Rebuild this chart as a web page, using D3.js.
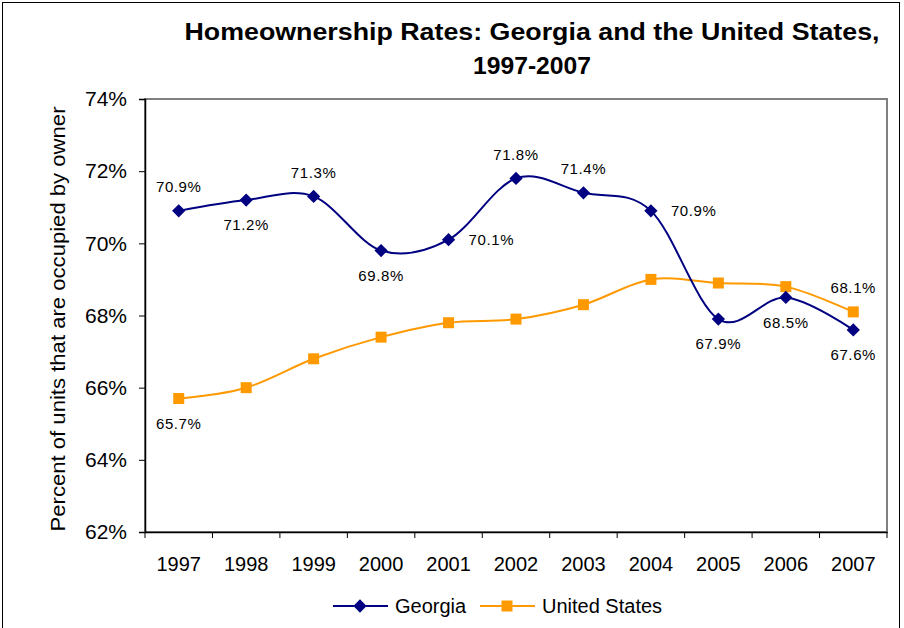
<!DOCTYPE html>
<html><head><meta charset="utf-8">
<script src="https://cdn.jsdelivr.net/npm/d3@7"></script>
<style>body{margin:0;background:#fff}svg{display:block;font-family:Arial,"Liberation Sans",sans-serif}</style>
</head><body>
<svg id="c" width="904" height="628"></svg>
<script>
const years = ["1997","1998","1999","2000","2001","2002","2003","2004","2005","2006","2007"];
const georgia = [70.9,71.2,71.3,69.8,70.1,71.8,71.4,70.9,67.9,68.5,67.6];
const unitedStates = [65.7,66.0,66.8,67.4,67.8,67.9,68.3,69.0,68.9,68.8,68.1];
const yTicks = [62,64,66,68,70,72,74];
// label placement: a=above, b=below, r=right
const georgiaLabelPos = ["a","b","a","b","r","a","a","r","b","b","b"];
const usLabelPos = ["b",null,null,null,null,null,null,null,null,null,"a"];

const svg = d3.select("#c");
const m={l:145,r:887,t:99,b:532};
svg.append("rect").attr("x",2.5).attr("y",2.5).attr("width",897).attr("height",640)
  .attr("fill","#fff").attr("stroke","#000").attr("stroke-width",1);

const x = d3.scaleBand().domain(years).range([m.l,m.r]);
const y = d3.scaleLinear().domain([62,74]).range([m.b,m.t]);

svg.append("rect").attr("x",m.l).attr("y",m.t).attr("width",m.r-m.l).attr("height",m.b-m.t)
  .attr("fill","none").attr("stroke","#808080").attr("stroke-width",2);

const ya = svg.append("g").attr("transform",`translate(${m.l},0)`)
  .call(d3.axisLeft(y).tickValues(yTicks).tickFormat(d=>d+"%").tickSize(6).tickPadding(12));
ya.select(".domain").attr("stroke","#000").attr("stroke-width",1.5);
ya.selectAll(".tick line").attr("stroke","#000");
ya.selectAll("text").attr("font-size",21).attr("fill","#000").attr("font-family","Arial, Liberation Sans, sans-serif");

const xa = svg.append("g").attr("transform",`translate(0,${m.b})`)
  .call(d3.axisBottom(x).tickSize(0).tickPadding(25));
xa.select(".domain").attr("stroke","#000").attr("stroke-width",1.5);
xa.selectAll("text").attr("font-size",20).attr("fill","#000").attr("font-family","Arial, Liberation Sans, sans-serif");
const bounds = years.map(d=>x(d)).concat([m.r]);
xa.selectAll("line.bt").data(bounds).enter().append("line").attr("class","bt")
  .attr("x1",d=>d).attr("x2",d=>d).attr("y1",0).attr("y2",6).attr("stroke","#000");

svg.append("text").attr("x",532).attr("y",40).attr("text-anchor","middle")
  .attr("font-size",23).attr("font-weight","bold")
  .attr("textLength",695).attr("lengthAdjust","spacingAndGlyphs")
  .text("Homeownership Rates: Georgia and the United States,");
svg.append("text").attr("x",532).attr("y",74).attr("text-anchor","middle")
  .attr("font-size",23).attr("font-weight","bold")
  .attr("textLength",118).attr("lengthAdjust","spacingAndGlyphs")
  .text("1997-2007");

svg.append("text").attr("transform","translate(65,319) rotate(-90)").attr("text-anchor","middle")
  .attr("font-size",21).attr("textLength",425).attr("lengthAdjust","spacingAndGlyphs")
  .text("Percent of units that are occupied by owner");

const cx = d=>x(d)+x.bandwidth()/2;
const line = d3.line().x((d,i)=>cx(years[i])).y(d=>y(d)).curve(d3.curveCatmullRom.alpha(0));

const navy="#000080", orange="#FF9900";
svg.append("path").attr("d",line(unitedStates)).attr("fill","none").attr("stroke",orange).attr("stroke-width",2);
svg.append("path").attr("d",line(georgia)).attr("fill","none").attr("stroke",navy).attr("stroke-width",2);

const diamond = d3.symbol().type(d3.symbolSquare).size(88);
const square = d3.symbol().type(d3.symbolSquare).size(121);
svg.selectAll("path.us").data(unitedStates).enter().append("path").attr("class","us")
  .attr("d",square).attr("fill",orange)
  .attr("transform",(d,i)=>`translate(${cx(years[i])},${y(d)})`);
svg.selectAll("path.ga").data(georgia).enter().append("path").attr("class","ga")
  .attr("d",diamond).attr("fill",navy)
  .attr("transform",(d,i)=>`translate(${cx(years[i])},${y(d)}) rotate(45)`);

function labels(data,pos){
  data.forEach((v,i)=>{
    const p=pos[i]; if(!p) return;
    let tx=cx(years[i]), ty=y(v), anchor="middle";
    if(p==="a") ty-=24; else if(p==="b") ty+=25; else {tx+=20; anchor="start";}
    svg.append("text").attr("x",tx).attr("y",ty).attr("dy","0.35em").attr("text-anchor",anchor)
      .attr("font-size",15).attr("letter-spacing",0.6).attr("fill","#000").text(v.toFixed(1)+"%");
  });
}
labels(georgia,georgiaLabelPos);
labels(unitedStates,usLabelPos);

const ly=606;
const lg=svg.append("g");
lg.append("line").attr("x1",333).attr("x2",388).attr("y1",ly).attr("y2",ly).attr("stroke",navy).attr("stroke-width",2);
lg.append("path").attr("d",diamond).attr("fill",navy).attr("transform",`translate(360,${ly}) rotate(45)`);
lg.append("text").attr("x",395).attr("y",ly).attr("dy","0.35em").attr("font-size",20).text("Georgia");
lg.append("line").attr("x1",480).attr("x2",535).attr("y1",ly).attr("y2",ly).attr("stroke",orange).attr("stroke-width",2);
lg.append("path").attr("d",square).attr("fill",orange).attr("transform",`translate(507,${ly})`);
lg.append("text").attr("x",542).attr("y",ly).attr("dy","0.35em").attr("font-size",20).text("United States");
</script>
</body></html>
